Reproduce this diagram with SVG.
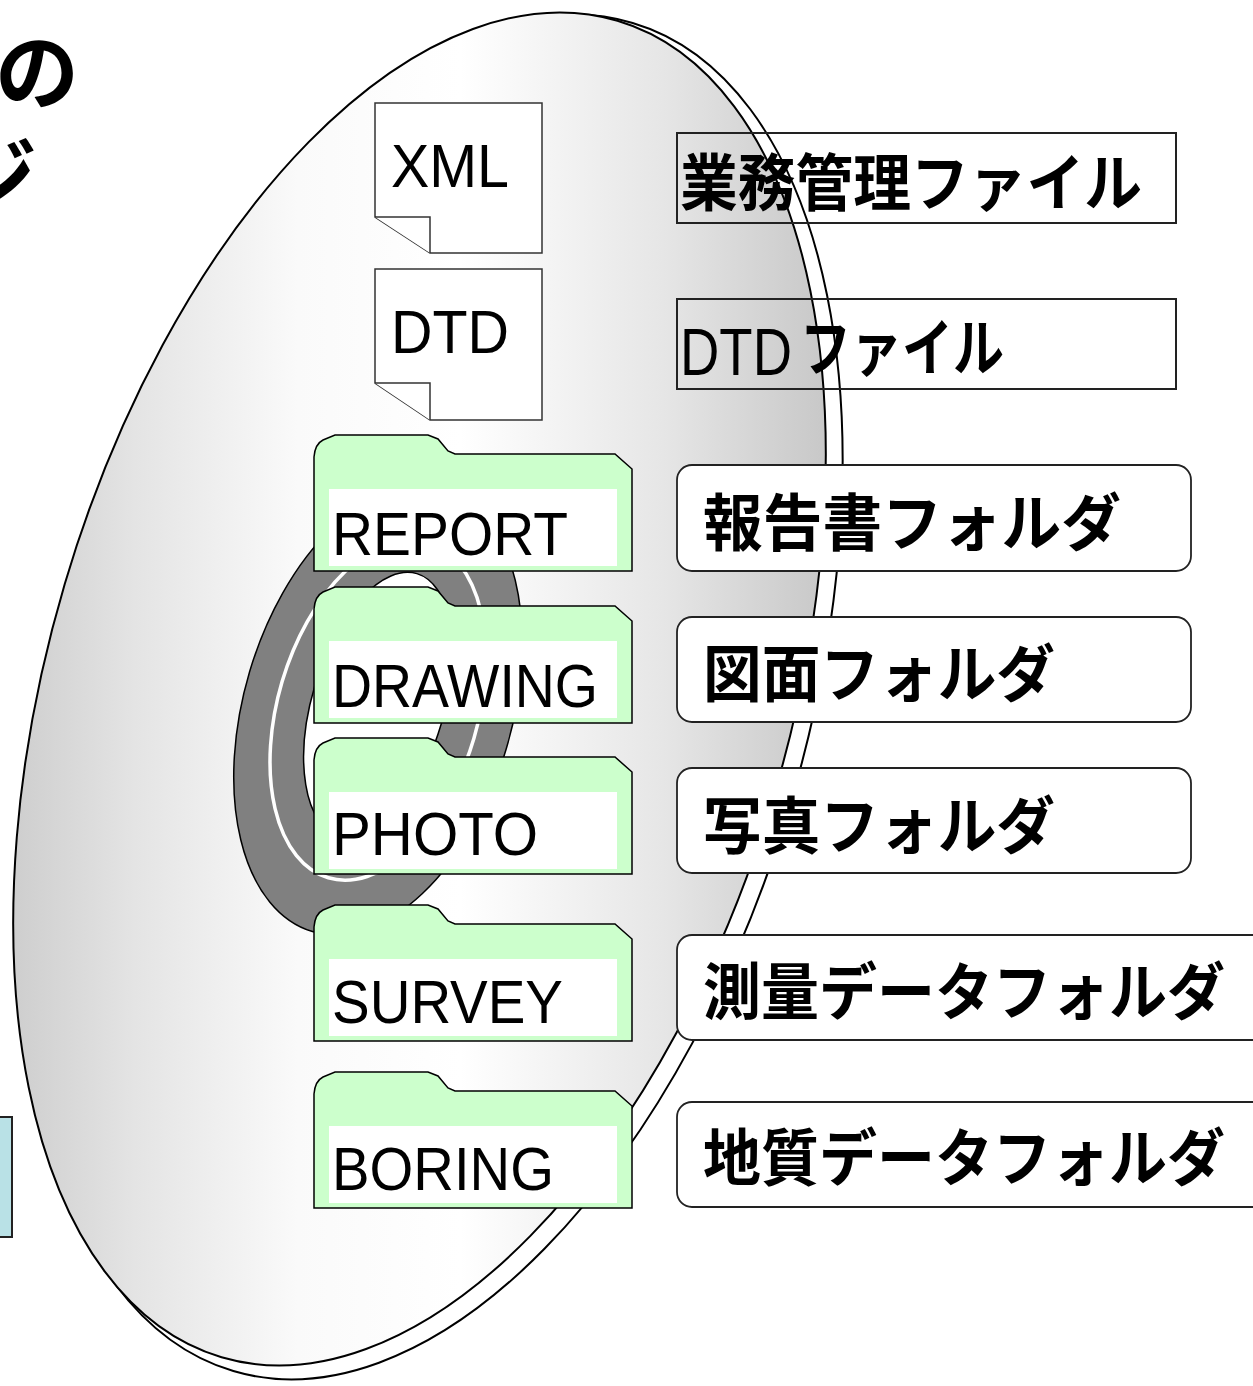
<svg xmlns="http://www.w3.org/2000/svg" width="1253" height="1386" viewBox="0 0 1253 1386">
  <style>
    .edge { stroke: #000; stroke-width: 2; }
    .folder { fill: #ccffcc; stroke: #000; stroke-width: 1.5; }
    .label-bg { fill: #fff; }
    .latin { font-family: "Liberation Sans", Arial, sans-serif; font-size: 62px; fill: #000; }
    .jp { font-family: "Noto Sans CJK JP", "Noto Sans", sans-serif; font-weight: bold; font-size: 62px; fill: #000; }
    .doc { fill: #fff; stroke: #333; stroke-width: 1.5; }
    .plain-box { fill: none; stroke: #222; stroke-width: 2; }
    .round-box { fill: #fff; stroke: #222; stroke-width: 1.8; }
  </style>
  <defs>
    <!-- horizontal shading given in page coordinates, undone for the rotated ellipse -->
    <linearGradient id="discShade" gradientUnits="userSpaceOnUse" x1="13" y1="0" x2="826" y2="0"
                    gradientTransform="rotate(-16.5) translate(-419.5 -689)">
      <stop offset="0" stop-color="#cecece"/>
      <stop offset="0.15" stop-color="#e4e4e4"/>
      <stop offset="0.35" stop-color="#fafafa"/>
      <stop offset="0.55" stop-color="#ffffff"/>
      <stop offset="0.8" stop-color="#e6e6e6"/>
      <stop offset="1" stop-color="#c8c8c8"/>
    </linearGradient>
    <!-- folder outline, local origin = top of tab -->
    <path id="folderShape" d="M314,136 V22 Q315,9 323,5 L335,0 H428 L438,4 L448,16 L455,19 H615 L632,34 V136 Z"/>
  </defs>

  <!-- cut-off title and side panel -->
  <g id="title">
    <text class="jp" style="font-size:84px" x="-5" y="103">の</text>
    <text class="jp" style="font-size:84px" x="-47" y="207">ジ</text>
  </g>
  <g id="side-panel">
    <rect x="-10" y="1117" width="22" height="120" fill="#b9e1e6" stroke="#222" stroke-width="2"/>
  </g>

  <!-- the disc: rim behind, face in front, hub -->
  <g id="disc">
    <ellipse cx="0" cy="0" rx="373" ry="703" transform="translate(433 697) rotate(16.5)" fill="#fff" class="edge"/>
    <ellipse cx="0" cy="0" rx="370" ry="697" transform="translate(419.5 689) rotate(16.5)" fill="url(#discShade)" class="edge"/>
    <ellipse cx="0" cy="0" rx="134" ry="231" transform="translate(378 710) rotate(16.5)" fill="#808080" stroke="#000" stroke-width="1.5"/>
    <ellipse cx="0" cy="0" rx="100" ry="175" transform="translate(378 710) rotate(16.5)" fill="none" stroke="#fff" stroke-width="3.5"/>
    <ellipse cx="0" cy="0" rx="66" ry="137" transform="translate(378 705) rotate(16.5)" fill="#fff" stroke="#000" stroke-width="1.5"/>
  </g>

  <!-- document icons -->
  <g id="doc-xml">
    <path class="doc" d="M375,103 H542 V253 H430 L375,217 Z"/>
    <path class="doc" fill="none" d="M375,217 H430 V253"/>
    <text class="latin" x="391" y="187" textLength="118" lengthAdjust="spacingAndGlyphs">XML</text>
  </g>
  <g id="doc-dtd">
    <path class="doc" d="M375,269 H542 V420 H430 L375,383 Z"/>
    <path class="doc" fill="none" d="M375,383 H430 V420"/>
    <text class="latin" x="391" y="353" textLength="118" lengthAdjust="spacingAndGlyphs">DTD</text>
  </g>

  <!-- folders -->
  <g id="folder-report" transform="translate(0 435)">
    <use href="#folderShape" class="folder"/>
    <rect class="label-bg" x="329" y="54" width="288" height="77"/>
    <text class="latin" x="332" y="120" textLength="236" lengthAdjust="spacingAndGlyphs">REPORT</text>
  </g>
  <g id="folder-drawing" transform="translate(0 587)">
    <use href="#folderShape" class="folder"/>
    <rect class="label-bg" x="329" y="54" width="288" height="77"/>
    <text class="latin" x="332" y="120" textLength="266" lengthAdjust="spacingAndGlyphs">DRAWING</text>
  </g>
  <g id="folder-photo" transform="translate(0 738)">
    <use href="#folderShape" class="folder"/>
    <rect class="label-bg" x="329" y="54" width="288" height="77"/>
    <text class="latin" x="332" y="117" textLength="206" lengthAdjust="spacingAndGlyphs">PHOTO</text>
  </g>
  <g id="folder-survey" transform="translate(0 905)">
    <use href="#folderShape" class="folder"/>
    <rect class="label-bg" x="329" y="54" width="288" height="77"/>
    <text class="latin" x="332" y="118" textLength="231" lengthAdjust="spacingAndGlyphs">SURVEY</text>
  </g>
  <g id="folder-boring" transform="translate(0 1072)">
    <use href="#folderShape" class="folder"/>
    <rect class="label-bg" x="329" y="54" width="288" height="77"/>
    <text class="latin" x="332" y="118" textLength="222" lengthAdjust="spacingAndGlyphs">BORING</text>
  </g>

  <!-- description labels -->
  <g id="label-management">
    <rect class="plain-box" x="677" y="133" width="499" height="90"/>
    <text class="jp" x="680" y="206" textLength="462" lengthAdjust="spacingAndGlyphs">業務管理ファイル</text>
  </g>
  <g id="label-dtd">
    <rect class="plain-box" x="677" y="299" width="499" height="90"/>
    <text class="latin" style="font-size:66px" x="680" y="375" textLength="112" lengthAdjust="spacingAndGlyphs">DTD</text>
    <text class="jp" x="800" y="371" textLength="204" lengthAdjust="spacingAndGlyphs">ファイル</text>
  </g>
  <g id="label-report">
    <rect class="round-box" x="677" y="465" width="514" height="106" rx="15"/>
    <text class="jp" x="703" y="546" textLength="418" lengthAdjust="spacingAndGlyphs">報告書フォルダ</text>
  </g>
  <g id="label-drawing">
    <rect class="round-box" x="677" y="617" width="514" height="105" rx="15"/>
    <text class="jp" x="703" y="697" textLength="352" lengthAdjust="spacingAndGlyphs">図面フォルダ</text>
  </g>
  <g id="label-photo">
    <rect class="round-box" x="677" y="768" width="514" height="105" rx="15"/>
    <text class="jp" x="703" y="849" textLength="352" lengthAdjust="spacingAndGlyphs">写真フォルダ</text>
  </g>
  <g id="label-survey">
    <rect class="round-box" x="677" y="935" width="600" height="105" rx="15"/>
    <text class="jp" x="703" y="1015" textLength="522" lengthAdjust="spacingAndGlyphs">測量データフォルダ</text>
  </g>
  <g id="label-boring">
    <rect class="round-box" x="677" y="1102" width="600" height="105" rx="15"/>
    <text class="jp" x="703" y="1181" textLength="522" lengthAdjust="spacingAndGlyphs">地質データフォルダ</text>
  </g>

  <g id="connectors"/>
</svg>
